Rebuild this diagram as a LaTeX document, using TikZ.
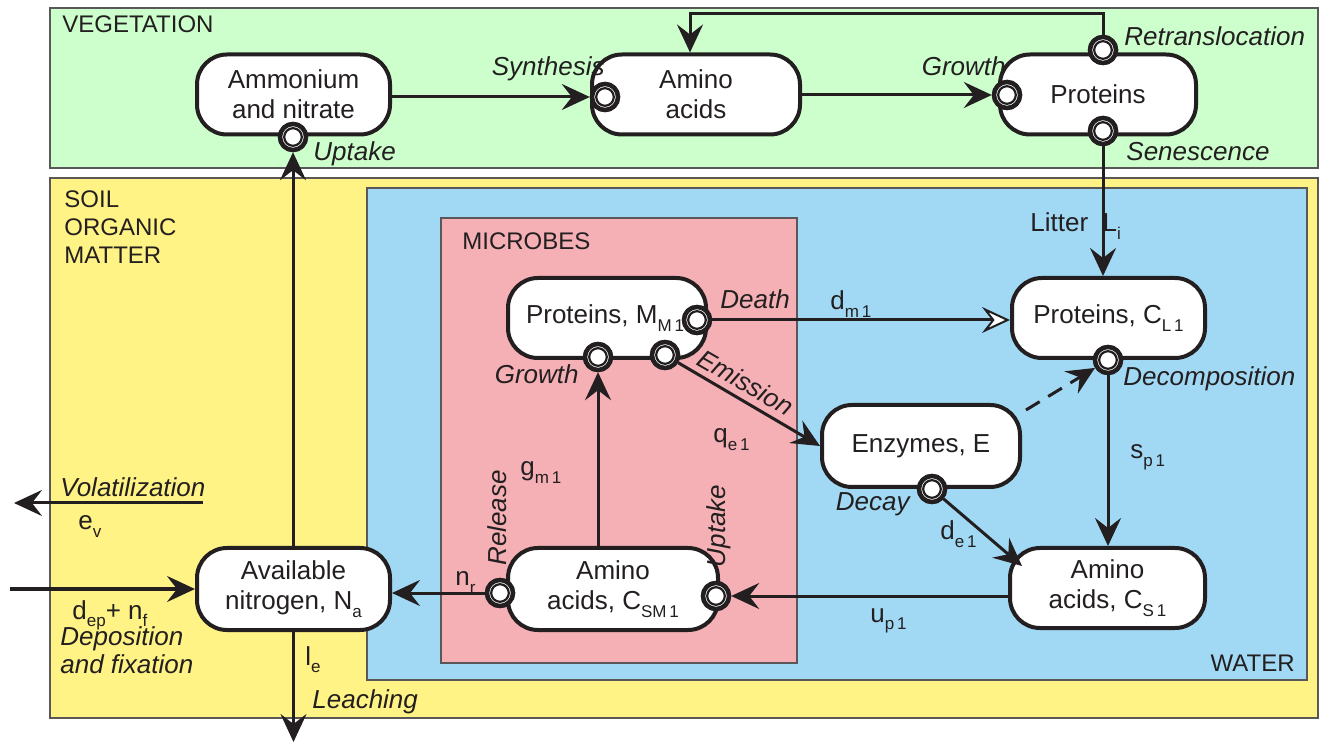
\documentclass[tikz,border=0pt]{standalone}
\usepackage{fontspec}
\setmainfont{Liberation Sans}
\usetikzlibrary{arrows.meta}
\definecolor{veg}{HTML}{CCFFCC}
\definecolor{soil}{HTML}{FFF385}
\definecolor{water}{HTML}{A1D9F5}
\definecolor{mic}{HTML}{F4B0B4}
\definecolor{ink}{HTML}{231F20}
\newcommand{\sbs}[1]{\raisebox{-0.55ex}{\fontsize{8.5}{9}\selectfont #1}}
\begin{document}
\begin{tikzpicture}[x=0.5pt,y=-0.5pt,
  font=\fontsize{13}{15}\selectfont, text=ink,
  region/.style={draw=ink!75, line width=0.8pt},
  pool/.style={draw=ink, line width=2pt, fill=white, rounded corners=15pt, align=center, inner sep=0pt, minimum height=40pt},
  port/.style={circle, fill=white, draw=ink, line width=2.2pt, minimum size=13pt, inner sep=0pt,
     path picture={\draw[ink, line width=1.1pt] (path picture bounding box.center) circle (4.4pt);}},
  flow/.style={draw=ink, line width=1.5pt, -{Stealth[length=14pt, width=13pt, inset=5pt]}},
  openflow/.style={draw=ink, line width=1.5pt, -{Stealth[length=14pt, width=13pt, inset=5pt, fill=white, line width=1pt]}},
  lab/.style={font=\fontsize{13}{15}\selectfont\itshape, inner sep=0pt},
  var/.style={inner sep=0pt},
  title/.style={inner sep=0pt, font=\fontsize{12}{14}\selectfont}
]
\useasboundingbox (0,0) rectangle (1322,742);

% regions
\draw[region, fill=veg] (50,8) rectangle (1318,168);
\draw[region, fill=soil] (50,178) rectangle (1318,718);
\draw[region, fill=water] (367,188) rectangle (1307,680);
\draw[region, fill=mic] (441,218) rectangle (797,663);

\node[title, anchor=base west] (tveg) at (62,33) {VEGETATION};
\node[title, anchor=base west] (tsoil1) at (64,208) {SOIL};
\node[title, anchor=base west] (tsoil2) at (64,236) {ORGANIC};
\node[title, anchor=base west] (tsoil3) at (64,264) {MATTER};
\node[title, anchor=base west] (tmic) at (462,250) {MICROBES};
\node[title, anchor=base east] (twat) at (1295,671) {WATER};

% pools
\node[pool, minimum width=96.5pt] (amm) at (293.5,94.5) {Ammonium\\and nitrate};
\node[pool, minimum width=104pt] (aminoV) at (696,94.5) {Amino\\acids};
\node[pool, minimum width=98pt] (protV) at (1098,94.5) {Proteins};
\node[pool, minimum width=99pt] (mm) at (607,318) {Proteins, M\sbs{M\,1}\hspace{2pt}};
\node[pool, minimum width=96.5pt] (cl) at (1108.5,318) {Proteins, C\sbs{L\,1}};
\node[pool, minimum width=99pt, minimum height=41pt] (enz) at (921,446) {Enzymes, E};
\node[pool, minimum width=105pt, minimum height=41pt] (csm) at (613,589) {Amino\\acids, C\sbs{SM\,1}};
\node[pool, minimum width=97.5pt] (cs) at (1107.5,588) {Amino\\acids, C\sbs{S\,1}};
\node[pool, minimum width=96.5pt, minimum height=41pt] (avail) at (293.5,589) {Available\\nitrogen, N\sbs{a}};

% ports
\node[port] (upA) at (293,137) {};
\node[port] (synth) at (605,97) {};
\node[port] (growV) at (1007,95) {};
\node[port] (retr) at (1103,50) {};
\node[port] (sen) at (1103,131) {};
\node[port] (death) at (697,320) {};
\node[port] (growM) at (598,357) {};
\node[port] (emis) at (665,355) {};
\node[port] (decomp) at (1108,360) {};
\node[port] (decay) at (932,489) {};
\node[port] (release) at (500,593) {};
\node[port] (uptM) at (716,596) {};

% free ends
\coordinate (rt) at (690,14);
\coordinate (dstart) at (1026,410);
\coordinate (dend) at (1022,566);
\coordinate (vs) at (203,503);
\coordinate (ve) at (14,503);
\coordinate (ds) at (10,589);
\coordinate (le) at (293,742);

% connectors
\draw[flow] (amm.east |- synth.west) -- (synth.west);
\draw[flow] (aminoV.east |- growV.west) -- (growV.west);
\draw[flow] (retr.north) |- (rt) -- (rt |- aminoV.north);
\draw[flow] (avail.north -| upA.south) -- (upA.south);
\draw[flow] (sen.south) -- (sen.south |- cl.north);
\draw[openflow] (death.east) -- (death.east -| cl.west);
\draw[flow] (emis) -- (enz.west);
\draw[flow, dash pattern=on 8pt off 5pt] (dstart) -- (decomp);
\draw[flow] (decay) -- (dend);
\draw[flow] (decomp.south) -- (decomp.south |- cs.north);
\draw[flow] (cs.west |- uptM.east) -- (uptM.east);
\draw[flow] (growM.south |- csm.north) -- (growM.south);
\draw[flow] (release.west) -- (release.west -| avail.east);
\draw[flow] (vs) -- (ve);
\draw[flow] (ds) -- (ds -| avail.west);
\draw[flow] (avail.south) -- (avail.south |- le);

% redraw ports on top
\foreach \p in {upA,synth,growV,retr,sen,death,growM,emis,decomp,decay,release,uptM}
  \node[port] at (\p) {};

% process labels
\node[lab, anchor=base west] (lupA) at (313,161) {Uptake};
\node[lab, anchor=base east] (lsyn) at (605,76) {Synthesis};
\node[lab, anchor=base east] (lgrV) at (1006,76) {Growth};
\node[lab, anchor=base west] (lret) at (1124,46) {Retranslocation};
\node[lab, anchor=base west] (lsen) at (1126,161) {Senescence};
\node[lab, anchor=base west] (ldea) at (720,309) {Death};
\node[lab, anchor=base east] (lgrM) at (579,384) {Growth};
\node[lab, rotate=-30, anchor=south] (lemi) at (741,391) {Emission};
\node[lab, anchor=base west] (ldec) at (1123,386) {Decomposition};
\node[lab, anchor=base east] (ldcy) at (910,511) {Decay};
\node[lab, rotate=90] (lrel) at (497,518) {Release};
\node[lab, rotate=90] (lupM) at (719,526) {Uptake};
\node[lab, anchor=base west] (lvol) at (60,497) {Volatilization};
\node[lab, anchor=base west] (ldep1) at (60,645) {Deposition};
\node[lab, anchor=base west] (ldep2) at (60,673) {and fixation};
\node[lab, anchor=base west] (lleach) at (312,708) {Leaching};

% variables
\node[var, anchor=base west] (vdm) at (830,310) {d\sbs{m\,1}};
\node[var, anchor=base west] (vlit) at (1030,232) {Litter~~L\sbs{i}};
\node[var, anchor=base west] (vsp) at (1130,459) {s\sbs{p\,1}};
\node[var, anchor=base west] (vde) at (940,540) {d\sbs{e\,1}};
\node[var, anchor=base west] (vup) at (870,622) {u\sbs{p\,1}};
\node[var, anchor=base west] (vqe) at (713,443) {q\sbs{e\,1}};
\node[var, anchor=base west] (vgm) at (520,476) {g\sbs{m\,1}};
\node[var, anchor=base west] (vnr) at (455,586) {n\sbs{r}};
\node[var, anchor=base west] (vev) at (78,530) {e\sbs{v}};
\node[var, anchor=base west] (vdep) at (72,619) {d\sbs{ep}+ n\sbs{f}};
\node[var, anchor=base west] (vle) at (305,665) {l\sbs{e}};
\end{tikzpicture}
\end{document}
